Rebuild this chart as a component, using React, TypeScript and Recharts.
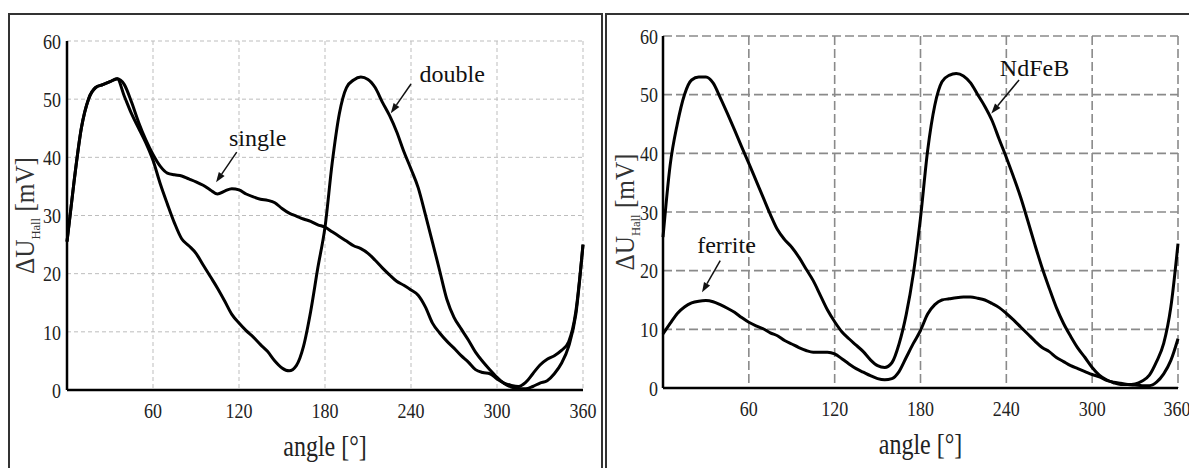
import React from "react";
import {
  CartesianGrid,
  Line,
  LineChart,
  ReferenceDot,
  ReferenceLine,
  XAxis,
  YAxis,
} from "recharts";

// measurement angles, degrees
const angles = [
  0, 5, 10, 15, 20, 25, 30, 35, 40, 45, 50, 55, 60, 65, 70, 75, 80, 85, 90, 95,
  100, 105, 110, 115, 120, 125, 130, 135, 140, 145, 150, 155, 160, 165, 170,
  175, 180, 185, 190, 195, 200, 205, 210, 215, 220, 225, 230, 235, 240, 245,
  250, 255, 260, 265, 270, 275, 280, 285, 290, 295, 300, 305, 310, 315, 320,
  325, 330, 335, 340, 345, 350, 355, 360,
];

// left panel: single vs double magnet, mV
const singleMagnet = [
  25.5, 36, 45, 50, 52, 52.5, 53, 53.5, 52.5, 49.5, 46, 43, 40.5, 38.5, 37.3,
  37, 36.8, 36.3, 35.8, 35.2, 34.4, 33.7, 34.2, 34.6, 34.4, 33.7, 33.2, 32.8,
  32.6, 32.2, 31.2, 30.4, 29.9, 29.4, 29, 28.4, 28, 27.2, 26.4, 25.6, 24.8,
  24.3, 23.5, 22.3, 21, 19.8, 18.7, 18, 17.2, 16.3, 14.3, 11.5, 9.8, 8.4, 7.2,
  5.9, 4.8, 3.5, 3, 2.8, 1.9, 1.2, 0.8, 0.6, 1.3, 2.8, 4.3, 5.3, 5.9, 6.8, 8.3,
  13.5, 25,
];
const doubleMagnet = [
  25.5, 36, 45, 50, 52, 52.5, 53, 53.5, 50.5, 47.5, 45, 42.5, 39.5, 35.5, 32,
  28.7, 26, 24.8, 23.5, 21.5, 19.5, 17.5, 15.3, 13, 11.5, 10.2, 9.1, 7.8, 6.6,
  5, 3.8, 3.3, 4.2, 7.5, 13.5, 21, 28, 39, 47.5, 52, 53.3, 53.8, 53.4, 52, 49.5,
  47.2, 44.4, 41, 38, 34.8, 30.2, 25.4, 20.5, 15.6, 12.5, 10.5, 8.6, 6.5, 4.9,
  3.5, 2.2, 1.1, 0.5, 0.2, 0.2, 0.6, 1.2, 1.6, 2.8, 4.6, 7.5, 13, 25,
];

// right panel: NdFeB vs ferrite magnet, mV
const ndfebMagnet = [
  25.7, 38, 45, 50, 52.5, 53, 53, 52, 49.5, 46.8, 44, 41.1, 38.3, 35.4, 32.5,
  29.6, 27, 25.3, 24, 22.3, 20.3, 18.3, 15.8, 13.3, 11.3, 9.6, 8.4, 7.3, 6.2,
  4.8, 3.8, 3.5, 4.3, 7.5, 12.5, 19.5, 29, 40.5, 48.2, 52.2, 53.3, 53.6, 53.2,
  52, 50, 48, 45.6, 42.4, 39.3, 36, 32.5, 28.5, 24.4, 20.5, 17, 13.7, 11, 8.8,
  6.8, 5.2, 3.5, 2.2, 1.4, 0.9, 0.6, 0.6, 0.7, 1.2, 2.2, 4.5, 7.6, 13.8, 24.6,
];
const ferriteMagnet = [
  9.2, 11, 12.7, 13.8, 14.5, 14.8, 14.9, 14.7, 14.2, 13.6, 12.9, 12, 11.2, 10.6,
  10.1, 9.4, 8.9, 8.1, 7.5, 6.9, 6.4, 6.1, 6.1, 6.1, 5.8, 5, 4.1, 3.3, 2.7, 2.1,
  1.6, 1.4, 1.6, 2.8, 5.2, 7.6, 9.8, 12.6, 14.2, 15, 15.2, 15.4, 15.5, 15.5,
  15.3, 15, 14.4, 13.7, 12.7, 11.6, 10.4, 9.2, 8, 6.9, 6.2, 5.2, 4.5, 3.8, 3.3,
  2.8, 2.3, 1.9, 1.3, 1, 0.8, 0.6, 0.5, 0.4, 0.4, 1, 2.4, 4.7, 8.4,
];

const angleTicks = [60, 120, 180, 240, 300, 360];
const voltTicks = [0, 10, 20, 30, 40, 50, 60];

// annotation anchors in data units: [angle, mV]
const leftNotes = [
  { text: "single", at: [133, 43.4], from: [118.4, 40.9], to: [104, 35.7] },
  { text: "double", at: [268.7, 54.3], from: [240, 52.6], to: [225.9, 47.6] },
];
const rightNotes = [
  { text: "NdFeB", at: [259.7, 54.6], from: [248.9, 52.5], to: [229.5, 46.8] },
  { text: "ferrite", at: [44.4, 24.3], from: [40, 21.7], to: [27.3, 16.3] },
];

const leftData = angles.map((a, i) => ({
  angle: a,
  single: singleMagnet[i],
  double: doubleMagnet[i],
}));
const rightData = angles.map((a, i) => ({
  angle: a,
  ndfeb: ndfebMagnet[i],
  ferrite: ferriteMagnet[i],
}));

const serif = '"Liberation Serif", "Times New Roman", serif';

// the scanned figure has slightly tall, narrow lettering
function SerifTick(props: any) {
  const { x, y, payload, textAnchor, vertical } = props;
  return (
    <g transform={`translate(${x} ${y}) scale(1 1.2)`}>
      <text
        x={0}
        y={0}
        dy={vertical ? "0.355em" : "0.71em"}
        textAnchor={textAnchor}
        fontFamily={serif}
        fontSize={18}
        fill="#222"
      >
        {payload.value}
      </text>
    </g>
  );
}

function Arrow(props: any) {
  const { x1, y1, x2, y2 } = props;
  const ang = Math.atan2(y2 - y1, x2 - x1);
  const len = 10;
  const half = 3.5;
  const bx = x2 - len * Math.cos(ang);
  const by = y2 - len * Math.sin(ang);
  const px = -Math.sin(ang) * half;
  const py = Math.cos(ang) * half;
  return (
    <g>
      <line x1={x1} y1={y1} x2={bx} y2={by} stroke="#111" strokeWidth={1.5} />
      <polygon
        points={`${x2},${y2} ${bx + px},${by + py} ${bx - px},${by - py}`}
        fill="#111"
      />
    </g>
  );
}

const noteText = (text: string) => (p: any) => (
  <text
    x={p.cx}
    y={p.cy}
    textAnchor="middle"
    dominantBaseline="central"
    fontFamily={serif}
    fontSize={24}
    fill="#111"
  >
    {text}
  </text>
);

function HallLabel(props: any) {
  const { viewBox } = props;
  const cy = viewBox.y + viewBox.height / 2;
  const x = 34;
  return (
    <g transform={`translate(${x} ${cy}) rotate(-90) scale(1.05 1.1)`}>
      <text x={0} y={0} textAnchor="middle" fontFamily={serif} fontSize={24} fill="#333">
        ΔU
        <tspan fontSize={12} dy={5}>
          Hall
        </tspan>
        <tspan dy={-5}> [mV]</tspan>
      </text>
    </g>
  );
}

function AngleLabel(props: any) {
  const { viewBox } = props;
  const cx = viewBox.x + viewBox.width / 2;
  return (
    <g transform={`translate(${cx} ${viewBox.y + 66}) scale(1 1.2)`}>
      <text x={0} y={0} textAnchor="middle" fontFamily={serif} fontSize={24} fill="#222">
        angle [°]
      </text>
    </g>
  );
}

type PanelProps = {
  data: any[];
  keys: string[];
  notes: typeof leftNotes;
  width: number;
  margin: { top: number; right: number; bottom: number; left: number };
  yWidth: number;
  yMargin: number;
  grid: { stroke: string; dash: string; width: number };
};

function Panel({ data, keys, notes, width, margin, yWidth, yMargin, grid }: PanelProps) {
  return (
    <LineChart width={width} height={468} data={data} margin={margin}>
      <CartesianGrid
        stroke={grid.stroke}
        strokeDasharray={grid.dash}
        strokeWidth={grid.width}
      />
      <XAxis
        dataKey="angle"
        type="number"
        domain={[0, 360]}
        ticks={angleTicks}
        tickLine={false}
        tickSize={0}
        tickMargin={13}
        height={60}
        axisLine={{ stroke: "#000", strokeWidth: 2.5 }}
        tick={<SerifTick />}
        label={<AngleLabel />}
      />
      <YAxis
        type="number"
        domain={[0, 60]}
        ticks={voltTicks}
        width={yWidth}
        tickLine={false}
        tickSize={0}
        tickMargin={yMargin}
        axisLine={{ stroke: "#000", strokeWidth: 2.5 }}
        tick={<SerifTick vertical />}
        label={<HallLabel />}
      />
      {keys.map((k) => (
        <Line
          key={k}
          dataKey={k}
          type="monotone"
          stroke="#000"
          strokeWidth={3}
          dot={false}
          activeDot={false}
          isAnimationActive={false}
        />
      ))}
      {notes.map((n) => (
        <ReferenceLine
          key={n.text + "-arrow"}
          segment={[
            { x: n.from[0], y: n.from[1] },
            { x: n.to[0], y: n.to[1] },
          ]}
          shape={Arrow}
        />
      ))}
      {notes.map((n) => (
        <ReferenceDot
          key={n.text}
          x={n.at[0]}
          y={n.at[1]}
          r={0}
          shape={noteText(n.text)}
        />
      ))}
    </LineChart>
  );
}

export default function App() {
  return (
    <div
      style={{
        position: "absolute",
        left: 0,
        top: 0,
        width: 1189,
        height: 468,
        overflow: "hidden",
        background: "#fff",
      }}
    >
      <div
        style={{
          position: "absolute",
          left: 8,
          top: 13,
          width: 595,
          height: 480,
          boxSizing: "border-box",
          border: "2px solid #333",
        }}
      />
      <div
        style={{
          position: "absolute",
          left: 605,
          top: 13,
          width: 600,
          height: 480,
          boxSizing: "border-box",
          border: "2px solid #333",
        }}
      />
      <div style={{ position: "absolute", left: 0, top: 0 }}>
        <Panel
          data={leftData}
          keys={["double", "single"]}
          notes={leftNotes}
          width={600}
          margin={{ top: 41, right: 17, bottom: 18, left: 10 }}
          yWidth={57}
          yMargin={6}
          grid={{ stroke: "#bdbdbd", dash: "4 3", width: 1 }}
        />
      </div>
      <div style={{ position: "absolute", left: 600, top: 0 }}>
        <Panel
          data={rightData}
          keys={["ndfeb", "ferrite"]}
          notes={rightNotes}
          width={589}
          margin={{ top: 36, right: 11, bottom: 20, left: 5 }}
          yWidth={58}
          yMargin={5}
          grid={{ stroke: "#8a8a8a", dash: "9 4", width: 1.6 }}
        />
      </div>
    </div>
  );
}
